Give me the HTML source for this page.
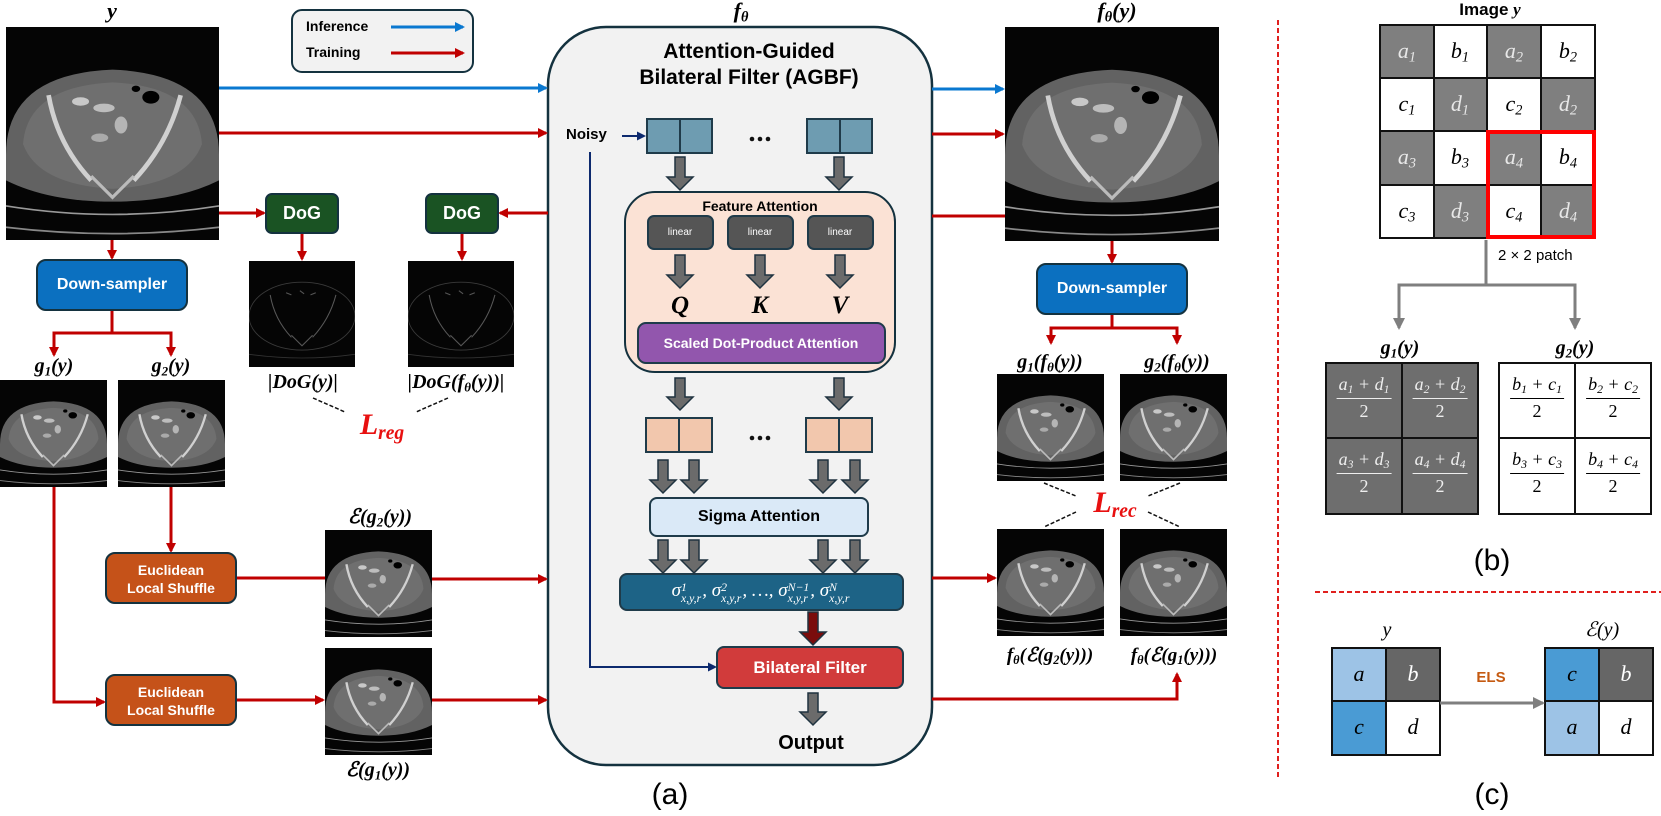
<!DOCTYPE html>
<html><head><meta charset="utf-8"><style>
html,body{margin:0;padding:0;background:#fff}
#c{position:relative;width:1661px;height:816px;overflow:hidden;background:#fff}
svg{position:absolute;left:0;top:0}
.t{position:absolute;white-space:nowrap;transform:translateX(-50%);line-height:1;font-family:"Liberation Sans",sans-serif}
.l{position:absolute;white-space:nowrap;line-height:1;font-family:"Liberation Sans",sans-serif}
.b{font-weight:bold}
.m{font-family:"Liberation Serif","DejaVu Serif",serif;font-style:italic;font-weight:bold}
.mi{font-family:"Liberation Serif","DejaVu Serif",serif;font-style:italic}
.w{color:#fff}
sub{font-size:65%;vertical-align:-0.25em}
.ss{display:inline-block;font-size:62%;vertical-align:-0.55em;line-height:1.0;text-align:left;margin-right:1px}
.ss span{display:block}
.fr{position:absolute;transform:translateX(-50%);text-align:center;font-family:"Liberation Serif",serif;font-style:italic;font-size:18px;line-height:1;white-space:nowrap}
.fr .n{border-bottom:1.5px solid currentColor;padding:0 2px 2px}
.fr .d{font-style:normal;padding-top:3px}
</style></head><body><div id="c">
<svg width="1661" height="816" viewBox="0 0 1661 816">
<defs>
<marker id="ar" markerWidth="10" markerHeight="10" refX="8" refY="5" orient="auto" markerUnits="userSpaceOnUse"><path d="M0,0 L10,5 L0,10z" fill="#c00000"/></marker>
<marker id="ab" markerWidth="10" markerHeight="10" refX="8" refY="5" orient="auto" markerUnits="userSpaceOnUse"><path d="M0,0 L10,5 L0,10z" fill="#0a78d0"/></marker>
<marker id="an" markerWidth="9" markerHeight="9" refX="7" refY="4.5" orient="auto" markerUnits="userSpaceOnUse"><path d="M0,0 L9,4.5 L0,9z" fill="#0d2a6e"/></marker>
<marker id="ag" markerWidth="12" markerHeight="12" refX="10" refY="6" orient="auto" markerUnits="userSpaceOnUse"><path d="M0,0 L12,6 L0,12z" fill="#7f7f7f"/></marker>
<symbol id="ct" viewBox="0 0 100 100">
<rect width="100" height="100" fill="#050505"/>
<path d="M0 60 Q0 22 50 20 Q100 22 100 60 L100 72 Q80 82 50 82 Q20 82 0 72z" fill="#626262"/>
<path d="M8 55 Q10 28 50 26 Q90 28 92 55 Q85 74 50 76 Q15 74 8 55z" fill="#6f6f6f"/>
<path d="M20 32 Q24 55 40 72" stroke="#d0d0d0" stroke-width="2.2" fill="none"/>
<path d="M82 32 Q76 55 60 72" stroke="#d0d0d0" stroke-width="2.2" fill="none"/>
<path d="M40 70 L50 80 L60 70" stroke="#bbb" stroke-width="1.5" fill="none"/>
<ellipse cx="35" cy="35" rx="4" ry="2" fill="#c8c8c8"/><ellipse cx="46" cy="38" rx="5" ry="2" fill="#bdbdbd"/><ellipse cx="54" cy="46" rx="3" ry="4" fill="#b5b5b5"/><ellipse cx="44" cy="52" rx="4" ry="2" fill="#aaa"/>
<ellipse cx="68" cy="33" rx="4" ry="3" fill="#000"/><ellipse cx="61" cy="29" rx="2" ry="1.5" fill="#000"/>
<path d="M0 84 Q50 92 100 84" stroke="#999" stroke-width="0.8" fill="none"/>
<path d="M0 94 Q50 100 100 94" stroke="#888" stroke-width="0.8" fill="none"/>
</symbol>
<symbol id="dog" viewBox="0 0 100 100">
<rect width="100" height="100" fill="#050505"/>
<ellipse cx="50" cy="52" rx="50" ry="32" fill="none" stroke="#3a3a3a" stroke-width="0.8"/>
<path d="M20 32 Q24 55 40 72 M82 32 Q76 55 60 72 M40 70 L50 80 L60 70" stroke="#585858" stroke-width="1" fill="none"/>
<path d="M35 30 L40 32 M48 28 L52 31 M58 32 L63 30" stroke="#555" stroke-width="1"/>
<path d="M0 88 Q50 95 100 88" stroke="#333" stroke-width="0.8" fill="none"/>
</symbol>
</defs>

<rect x="292" y="10" width="181" height="62" rx="10" fill="#f2f2f2" stroke="#14323f" stroke-width="2"/>
<line x1="391" y1="27" x2="463" y2="27" stroke="#0a78d0" stroke-width="3" marker-end="url(#ab)"/>
<line x1="391" y1="53" x2="463" y2="53" stroke="#c00000" stroke-width="3" marker-end="url(#ar)"/>

<use href="#ct" x="6" y="27" width="213" height="213"/>
<use href="#dog" x="249" y="261" width="106" height="106"/>
<use href="#dog" x="408" y="261" width="106" height="106"/>
<use href="#ct" x="0" y="380" width="107" height="107"/>
<use href="#ct" x="118" y="380" width="107" height="107"/>
<use href="#ct" x="325" y="530" width="107" height="107"/>
<use href="#ct" x="325" y="648" width="107" height="107"/>
<use href="#ct" x="1005" y="27" width="214" height="214"/>
<use href="#ct" x="997" y="374" width="107" height="107"/>
<use href="#ct" x="1120" y="374" width="107" height="107"/>
<use href="#ct" x="997" y="529" width="107" height="107"/>
<use href="#ct" x="1120" y="529" width="107" height="107"/>

<rect x="548" y="27" width="384" height="738" rx="58" fill="#f2f2f2" stroke="#14323f" stroke-width="2.5"/>

<g stroke="#c00000" stroke-width="3" fill="none">
<line x1="219" y1="133" x2="546" y2="133" marker-end="url(#ar)"/>
<line x1="219" y1="213" x2="264" y2="213" marker-end="url(#ar)"/>
<line x1="548" y1="213" x2="500" y2="213" marker-end="url(#ar)"/>
<line x1="302" y1="233" x2="302" y2="259" marker-end="url(#ar)"/>
<line x1="462" y1="233" x2="462" y2="259" marker-end="url(#ar)"/>
<line x1="112" y1="240" x2="112" y2="258" marker-end="url(#ar)"/>
<polyline points="112,310 112,333"/>
<polyline points="54,355 54,333 171,333 171,355"/>
<line x1="54" y1="340" x2="54" y2="355" marker-end="url(#ar)"/>
<line x1="171" y1="340" x2="171" y2="355" marker-end="url(#ar)"/>
<polyline points="54,487 54,702 104,702" marker-end="url(#ar)"/>
<line x1="171" y1="487" x2="171" y2="551" marker-end="url(#ar)"/>
<line x1="236" y1="578" x2="325" y2="578"/>
<line x1="432" y1="579" x2="546" y2="579" marker-end="url(#ar)"/>
<line x1="236" y1="700" x2="323" y2="700" marker-end="url(#ar)"/>
<line x1="432" y1="700" x2="546" y2="700" marker-end="url(#ar)"/>
<line x1="932" y1="134" x2="1003" y2="134" marker-end="url(#ar)"/>
<line x1="932" y1="216" x2="1005" y2="216"/>
<line x1="1112" y1="241" x2="1112" y2="262" marker-end="url(#ar)"/>
<polyline points="1112,314 1112,328"/>
<polyline points="1051,343 1051,328 1177,328 1177,343"/>
<line x1="1051" y1="332" x2="1051" y2="343" marker-end="url(#ar)"/>
<line x1="1177" y1="332" x2="1177" y2="343" marker-end="url(#ar)"/>
<line x1="932" y1="578" x2="995" y2="578" marker-end="url(#ar)"/>
<polyline points="932,699 1177,699 1177,674" marker-end="url(#ar)"/>
</g>
<line x1="219" y1="88" x2="546" y2="88" stroke="#0a78d0" stroke-width="3" marker-end="url(#ab)"/>
<line x1="932" y1="89" x2="1003" y2="89" stroke="#0a78d0" stroke-width="3" marker-end="url(#ab)"/>

<g stroke="#111" stroke-width="1.5" stroke-dasharray="4,2">
<line x1="313" y1="398" x2="345" y2="412"/><line x1="448" y1="398" x2="416" y2="412"/>
<line x1="1044" y1="483" x2="1076" y2="496"/><line x1="1180" y1="483" x2="1148" y2="496"/>
<line x1="1076" y1="512" x2="1044" y2="527"/><line x1="1148" y1="512" x2="1180" y2="527"/>
</g>

<g stroke="#14323f" stroke-width="2">
<rect x="266" y="194" width="72" height="39" rx="6" fill="#1a5323"/>
<rect x="426" y="194" width="72" height="39" rx="6" fill="#1a5323"/>
<rect x="37" y="260" width="150" height="50" rx="9" fill="#0b70c0"/>
<rect x="1037" y="264" width="150" height="50" rx="9" fill="#0b70c0"/>
<rect x="106" y="553" width="130" height="50" rx="9" fill="#c55219"/>
<rect x="106" y="675" width="130" height="50" rx="9" fill="#c55219"/>
</g>

<line x1="622" y1="136" x2="644" y2="136" stroke="#0d2a6e" stroke-width="2" marker-end="url(#an)"/>
<polyline points="590,152 590,667 715,667" fill="none" stroke="#0d2a6e" stroke-width="2" marker-end="url(#an)"/>
<g stroke="#1f3b4a" stroke-width="2">
<rect x="647" y="119" width="65" height="34" fill="#6e9cb1"/><line x1="680" y1="119" x2="680" y2="153"/>
<rect x="807" y="119" width="65" height="34" fill="#6e9cb1"/><line x1="840" y1="119" x2="840" y2="153"/>
<rect x="625" y="192" width="270" height="180" rx="30" fill="#fbe2d5" stroke="#14323f"/>
<rect x="648" y="216" width="65" height="33" rx="6" fill="#555"/>
<rect x="728" y="216" width="65" height="33" rx="6" fill="#555"/>
<rect x="808" y="216" width="65" height="33" rx="6" fill="#555"/>
<rect x="638" y="323" width="247" height="40" rx="8" fill="#9256ad"/>
<rect x="646" y="418" width="66" height="34" fill="#f2c7ad"/><line x1="679" y1="418" x2="679" y2="452"/>
<rect x="806" y="418" width="66" height="34" fill="#f2c7ad"/><line x1="839" y1="418" x2="839" y2="452"/>
<rect x="650" y="498" width="218" height="38" rx="7" fill="#dae9f7"/>
<rect x="620" y="574" width="283" height="36" rx="7" fill="#1d6386"/>
<rect x="717" y="647" width="186" height="41" rx="7" fill="#d13b3b"/>
</g>
<g fill="#111"><circle cx="752" cy="139" r="2.3"/><circle cx="760" cy="139" r="2.3"/><circle cx="768" cy="139" r="2.3"/>
<circle cx="752" cy="438" r="2.3"/><circle cx="760" cy="438" r="2.3"/><circle cx="768" cy="438" r="2.3"/></g>
<g fill="#6b6b6b" stroke="#1f3340" stroke-width="1.5">
<polygon points="675,157 685,157 685,177 693,177 680,190 667,177 675,177"/>
<polygon points="834,157 844,157 844,177 852,177 839,190 826,177 834,177"/>
<polygon points="675,255 685,255 685,275 693,275 680,288 667,275 675,275"/>
<polygon points="755,255 765,255 765,275 773,275 760,288 747,275 755,275"/>
<polygon points="835,255 845,255 845,275 853,275 840,288 827,275 835,275"/>
<polygon points="675,378 685,378 685,397 693,397 680,410 667,397 675,397"/>
<polygon points="834,378 844,378 844,397 852,397 839,410 826,397 834,397"/>
<polygon points="658,460 668,460 668,480 676,480 663,493 650,480 658,480"/>
<polygon points="689,460 699,460 699,480 707,480 694,493 681,480 689,480"/>
<polygon points="818,460 828,460 828,480 836,480 823,493 810,480 818,480"/>
<polygon points="850,460 860,460 860,480 868,480 855,493 842,480 850,480"/>
<polygon points="658,540 668,540 668,560 676,560 663,573 650,560 658,560"/>
<polygon points="689,540 699,540 699,560 707,560 694,573 681,560 689,560"/>
<polygon points="818,540 828,540 828,560 836,560 823,573 810,560 818,560"/>
<polygon points="850,540 860,540 860,560 868,560 855,573 842,560 850,560"/>
<polygon points="808,693 818,693 818,712 826,712 813,725 800,712 808,712"/>
<polygon points="808,612 818,612 818,632 826,632 813,645 800,632 808,632" fill="#7a0c0c"/>
</g>

<line x1="1278" y1="20" x2="1278" y2="780" stroke="#e0201e" stroke-width="2" stroke-dasharray="5,3"/>
<line x1="1315" y1="592" x2="1661" y2="592" stroke="#e0201e" stroke-width="2" stroke-dasharray="5,3"/>

<g stroke="#111" stroke-width="2">
<rect x="1380" y="25" width="54" height="53" fill="#7f7f7f"/><rect x="1434" y="25" width="53" height="53" fill="#fff"/><rect x="1487" y="25" width="54" height="53" fill="#7f7f7f"/><rect x="1541" y="25" width="54" height="53" fill="#fff"/>
<rect x="1380" y="78" width="54" height="53" fill="#fff"/><rect x="1434" y="78" width="53" height="53" fill="#7f7f7f"/><rect x="1487" y="78" width="54" height="53" fill="#fff"/><rect x="1541" y="78" width="54" height="53" fill="#7f7f7f"/>
<rect x="1380" y="131" width="54" height="54" fill="#7f7f7f"/><rect x="1434" y="131" width="53" height="54" fill="#fff"/><rect x="1487" y="131" width="54" height="54" fill="#7f7f7f"/><rect x="1541" y="131" width="54" height="54" fill="#fff"/>
<rect x="1380" y="185" width="54" height="53" fill="#fff"/><rect x="1434" y="185" width="53" height="53" fill="#7f7f7f"/><rect x="1487" y="185" width="54" height="53" fill="#fff"/><rect x="1541" y="185" width="54" height="53" fill="#7f7f7f"/>
</g>
<rect x="1488" y="132" width="106" height="105" fill="none" stroke="#ff0000" stroke-width="4"/>
<polyline points="1486,240 1486,285 1399,285 1399,328" fill="none" stroke="#7f7f7f" stroke-width="3" marker-end="url(#ag)"/>
<polyline points="1486,285 1575,285 1575,328" fill="none" stroke="#7f7f7f" stroke-width="3" marker-end="url(#ag)"/>
<g stroke="#111" stroke-width="2">
<rect x="1326" y="363" width="76" height="75" fill="#6e6e6e"/><rect x="1402" y="363" width="76" height="75" fill="#6e6e6e"/>
<rect x="1326" y="438" width="76" height="76" fill="#6e6e6e"/><rect x="1402" y="438" width="76" height="76" fill="#6e6e6e"/>
<rect x="1499" y="363" width="76" height="75" fill="#fff"/><rect x="1575" y="363" width="76" height="75" fill="#fff"/>
<rect x="1499" y="438" width="76" height="76" fill="#fff"/><rect x="1575" y="438" width="76" height="76" fill="#fff"/>
</g>
<g stroke="#111" stroke-width="2">
<rect x="1332" y="648" width="54" height="53" fill="#9dc3e6"/><rect x="1386" y="648" width="54" height="53" fill="#666"/>
<rect x="1332" y="701" width="54" height="54" fill="#4a9bd4"/><rect x="1386" y="701" width="54" height="54" fill="#fff"/>
<rect x="1545" y="648" width="54" height="53" fill="#4a9bd4"/><rect x="1599" y="648" width="54" height="53" fill="#666"/>
<rect x="1545" y="701" width="54" height="54" fill="#9dc3e6"/><rect x="1599" y="701" width="54" height="54" fill="#fff"/>
</g>
<line x1="1440" y1="703" x2="1543" y2="703" stroke="#7f7f7f" stroke-width="3" marker-end="url(#ag)"/>
</svg>

<div class="t m" style="left:112px;top:0;font-size:22px">y</div>
<div class="l b" style="left:306px;top:19px;font-size:14px">Inference</div>
<div class="l b" style="left:306px;top:45px;font-size:14px">Training</div>
<div class="t m" style="left:741px;top:0;font-size:22px">f<sub>θ</sub></div>
<div class="t b" style="left:749px;top:41px;font-size:21px">Attention-Guided</div>
<div class="t b" style="left:749px;top:67px;font-size:21px">Bilateral Filter (AGBF)</div>
<div class="l b" style="left:566px;top:127px;font-size:15px">Noisy</div>
<div class="t b" style="left:760px;top:199px;font-size:14px">Feature Attention</div>
<div class="t w" style="left:680px;top:228px;font-size:10px">linear</div>
<div class="t w" style="left:760px;top:228px;font-size:10px">linear</div>
<div class="t w" style="left:840px;top:228px;font-size:10px">linear</div>
<div class="t m" style="left:680px;top:293px;font-size:25px">Q</div>
<div class="t m" style="left:760px;top:293px;font-size:25px">K</div>
<div class="t m" style="left:840px;top:293px;font-size:25px">V</div>
<div class="t b w" style="left:761px;top:336px;font-size:14px">Scaled Dot-Product Attention</div>
<div class="t b" style="left:759px;top:509px;font-size:16px">Sigma Attention</div>
<div class="t mi w" style="left:761px;top:581px;font-size:19px">σ<span class="ss"><span>1</span><span>x,y,r</span></span>, σ<span class="ss"><span>2</span><span>x,y,r</span></span>, …, σ<span class="ss"><span>N−1</span><span>x,y,r</span></span>, σ<span class="ss"><span>N</span><span>x,y,r</span></span></div>
<div class="t b w" style="left:810px;top:659px;font-size:17px">Bilateral Filter</div>
<div class="t b" style="left:811px;top:733px;font-size:20px">Output</div>
<div class="t" style="left:670px;top:780px;font-size:30px">(a)</div>

<div class="t b w" style="left:302px;top:204px;font-size:18px">DoG</div>
<div class="t b w" style="left:462px;top:204px;font-size:18px">DoG</div>
<div class="t m" style="left:303px;top:372px;font-size:20px">|DoG(y)|</div>
<div class="t m" style="left:456px;top:372px;font-size:20px">|DoG(f<sub>θ</sub>(y))|</div>
<div class="t m" style="left:382px;top:410px;font-size:30px;color:#e81010">L<sub>reg</sub></div>
<div class="t b w" style="left:112px;top:277px;font-size:16px">Down-sampler</div>
<div class="t b w" style="left:1112px;top:281px;font-size:16px">Down-sampler</div>
<div class="t m" style="left:54px;top:356px;font-size:20px">g<sub>1</sub>(y)</div>
<div class="t m" style="left:171px;top:356px;font-size:20px">g<sub>2</sub>(y)</div>
<div class="t b w" style="left:171px;top:561px;font-size:14px;text-align:center;line-height:18px">Euclidean<br>Local Shuffle</div>
<div class="t b w" style="left:171px;top:683px;font-size:14px;text-align:center;line-height:18px">Euclidean<br>Local Shuffle</div>
<div class="t m" style="left:380px;top:507px;font-size:20px">ℰ(g<sub>2</sub>(y))</div>
<div class="t m" style="left:378px;top:760px;font-size:20px">ℰ(g<sub>1</sub>(y))</div>
<div class="t m" style="left:1117px;top:0;font-size:22px">f<sub>θ</sub>(y)</div>
<div class="t m" style="left:1050px;top:352px;font-size:20px">g<sub>1</sub>(f<sub>θ</sub>(y))</div>
<div class="t m" style="left:1177px;top:352px;font-size:20px">g<sub>2</sub>(f<sub>θ</sub>(y))</div>
<div class="t m" style="left:1115px;top:488px;font-size:30px;color:#e81010">L<sub>rec</sub></div>
<div class="t m" style="left:1050px;top:646px;font-size:19px">f<sub>θ</sub>(ℰ(g<sub>2</sub>(y)))</div>
<div class="t m" style="left:1174px;top:646px;font-size:19px">f<sub>θ</sub>(ℰ(g<sub>1</sub>(y)))</div>

<div class="t b" style="left:1490px;top:1px;font-size:17px">Image <span class="m">y</span></div>
<div class="t mi" style="left:1407px;top:40px;font-size:22px;color:#e8e8e8">a<sub>1</sub></div>
<div class="t mi" style="left:1460px;top:40px;font-size:22px">b<sub>1</sub></div>
<div class="t mi" style="left:1514px;top:40px;font-size:22px;color:#e8e8e8">a<sub>2</sub></div>
<div class="t mi" style="left:1568px;top:40px;font-size:22px">b<sub>2</sub></div>
<div class="t mi" style="left:1407px;top:93px;font-size:22px">c<sub>1</sub></div>
<div class="t mi" style="left:1460px;top:93px;font-size:22px;color:#e8e8e8">d<sub>1</sub></div>
<div class="t mi" style="left:1514px;top:93px;font-size:22px">c<sub>2</sub></div>
<div class="t mi" style="left:1568px;top:93px;font-size:22px;color:#e8e8e8">d<sub>2</sub></div>
<div class="t mi" style="left:1407px;top:146px;font-size:22px;color:#e8e8e8">a<sub>3</sub></div>
<div class="t mi" style="left:1460px;top:146px;font-size:22px">b<sub>3</sub></div>
<div class="t mi" style="left:1514px;top:146px;font-size:22px;color:#e8e8e8">a<sub>4</sub></div>
<div class="t mi" style="left:1568px;top:146px;font-size:22px">b<sub>4</sub></div>
<div class="t mi" style="left:1407px;top:200px;font-size:22px">c<sub>3</sub></div>
<div class="t mi" style="left:1460px;top:200px;font-size:22px;color:#e8e8e8">d<sub>3</sub></div>
<div class="t mi" style="left:1514px;top:200px;font-size:22px">c<sub>4</sub></div>
<div class="t mi" style="left:1568px;top:200px;font-size:22px;color:#e8e8e8">d<sub>4</sub></div>
<div class="l" style="left:1498px;top:248px;font-size:15px">2 × 2 patch</div>
<div class="t m" style="left:1400px;top:338px;font-size:20px">g<sub>1</sub>(y)</div>
<div class="t m" style="left:1575px;top:338px;font-size:20px">g<sub>2</sub>(y)</div>
<div class="fr" style="left:1364px;top:375px;color:#eee"><div class="n">a<sub>1</sub> + d<sub>1</sub></div><div class="d">2</div></div>
<div class="fr" style="left:1440px;top:375px;color:#eee"><div class="n">a<sub>2</sub> + d<sub>2</sub></div><div class="d">2</div></div>
<div class="fr" style="left:1364px;top:450px;color:#eee"><div class="n">a<sub>3</sub> + d<sub>3</sub></div><div class="d">2</div></div>
<div class="fr" style="left:1440px;top:450px;color:#eee"><div class="n">a<sub>4</sub> + d<sub>4</sub></div><div class="d">2</div></div>
<div class="fr" style="left:1537px;top:375px"><div class="n">b<sub>1</sub> + c<sub>1</sub></div><div class="d">2</div></div>
<div class="fr" style="left:1613px;top:375px"><div class="n">b<sub>2</sub> + c<sub>2</sub></div><div class="d">2</div></div>
<div class="fr" style="left:1537px;top:450px"><div class="n">b<sub>3</sub> + c<sub>3</sub></div><div class="d">2</div></div>
<div class="fr" style="left:1613px;top:450px"><div class="n">b<sub>4</sub> + c<sub>4</sub></div><div class="d">2</div></div>
<div class="t" style="left:1492px;top:546px;font-size:30px">(b)</div>

<div class="t mi" style="left:1387px;top:620px;font-size:20px">y</div>
<div class="t mi" style="left:1602px;top:620px;font-size:20px">ℰ(y)</div>
<div class="t mi" style="left:1359px;top:663px;font-size:22px">a</div>
<div class="t mi" style="left:1413px;top:663px;font-size:22px;color:#fff">b</div>
<div class="t mi" style="left:1359px;top:716px;font-size:22px">c</div>
<div class="t mi" style="left:1413px;top:716px;font-size:22px">d</div>
<div class="t mi" style="left:1572px;top:663px;font-size:22px">c</div>
<div class="t mi" style="left:1626px;top:663px;font-size:22px;color:#fff">b</div>
<div class="t mi" style="left:1572px;top:716px;font-size:22px">a</div>
<div class="t mi" style="left:1626px;top:716px;font-size:22px">d</div>
<div class="t b" style="left:1491px;top:670px;font-size:15px;color:#c55a11">ELS</div>
<div class="t" style="left:1492px;top:780px;font-size:30px">(c)</div>
</div></body></html>
